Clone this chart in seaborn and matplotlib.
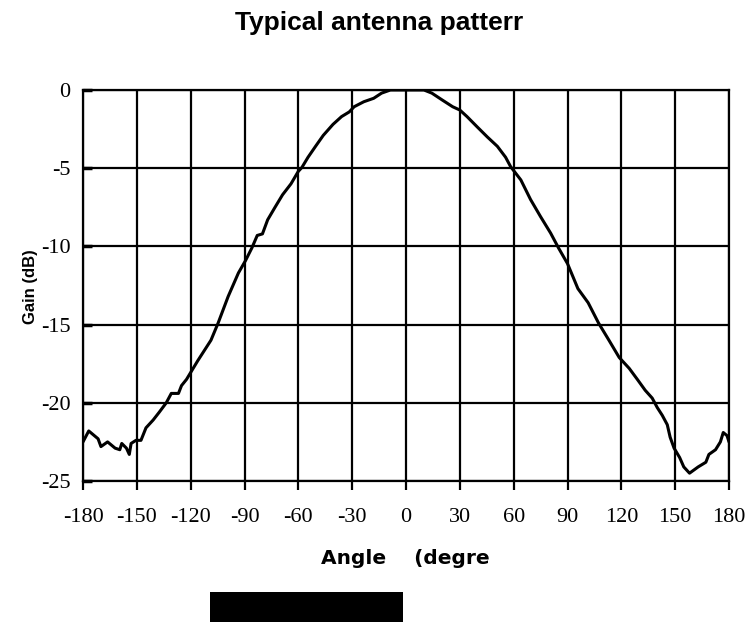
import matplotlib
matplotlib.use("Agg")
import matplotlib.pyplot as plt
import seaborn as sns
from matplotlib.patches import Rectangle

# Antenna pattern
angles = [-180, -176.8, -171.6, -170, -166.3, -162.1, -159.5, -158.4, -155.8, -154.2,
          -153.2, -150.5, -147.7, -144.9, -140.9, -137.5, -133.6, -130.8, -126.8, -125.1,
          -122.3, -116, -108.7, -104.7, -99.1, -93.4, -89.4, -85.9, -82.9, -80,
          -77.1, -73, -68.8, -64.1, -60, -58, -54.6, -50.4, -46.1, -40.7,
          -35.9, -31.6, -28.9, -23.5, -18, -13.6, -8.7, 10, 14.4, 20.2,
          26, 30, 34, 39.6, 45.3, 50.9, 55.5, 58.3, 64, 69.4,
          75, 80.6, 85, 90, 95.8, 101.5, 107.3, 113.1, 118.8, 124.4,
          128.9, 133.3, 137.2, 140, 142.8, 145.6, 147.2, 149.4, 152.5, 154.8,
          158, 162.8, 167.1, 168.8, 172.5, 175.2, 176.8, 178.9, 180]
gains = [-22.5, -21.8, -22.3, -22.8, -22.5, -22.9, -23.0, -22.6, -22.9, -23.3,
         -22.6, -22.4, -22.4, -21.6, -21.1, -20.6, -20.0, -19.4, -19.4, -18.9,
         -18.5, -17.3, -16.0, -14.9, -13.2, -11.7, -10.9, -10.1, -9.3, -9.2,
         -8.3, -7.5, -6.7, -6.0, -5.2, -4.95, -4.3, -3.6, -2.9, -2.2,
         -1.7, -1.4, -1.07, -0.75, -0.53, -0.2, 0.0, 0.0, -0.2, -0.64,
         -1.07, -1.28, -1.7, -2.35, -3.0, -3.6, -4.3, -4.9, -5.75, -7.0,
         -8.1, -9.15, -10.1, -11.1, -12.7, -13.6, -14.9, -16.0, -17.1, -17.8,
         -18.5, -19.2, -19.7, -20.3, -20.8, -21.4, -22.2, -22.9, -23.5, -24.1,
         -24.5, -24.1, -23.8, -23.3, -23.0, -22.5, -21.9, -22.1, -22.5]

x_ticks = list(range(-180, 181, 30))
y_ticks = list(range(-25, 1, 5))

sns.set_style("white")
plt.rcParams["axes.unicode_minus"] = False
plt.rcParams["text.color"] = "black"
plt.rcParams["xtick.color"] = "black"
plt.rcParams["ytick.color"] = "black"

fig = plt.figure(figsize=(7.49, 6.22), dpi=100)
ax = fig.add_axes([83 / 749, 1 - 481 / 622, 646 / 749, 391 / 622])

sns.lineplot(x=angles, y=gains, color="black", linewidth=2.2, ax=ax)

ax.set_xlim(-180, 180)
ax.set_ylim(-25, 0)
ax.set_xticks(x_ticks)
ax.set_yticks(y_ticks)
ax.grid(True, color="black", linewidth=1.6)
for s in ax.spines.values():
    s.set_color("black")
    s.set_linewidth(1.6)

ax.tick_params(axis="x", direction="out", length=6.5, width=1.6, pad=13,
               labelsize=16, bottom=True, colors="black")
ax.tick_params(axis="y", direction="in", length=6.5, width=2.5, pad=9,
               labelsize=16, left=True, colors="black")
for lab in ax.get_xticklabels() + ax.get_yticklabels():
    lab.set_fontfamily("Liberation Serif")

ax.set_xlabel("")
ax.set_ylabel("")

fig.text(379 / 749, 1 - 30 / 622, "Typical antenna patterr", ha="center",
         va="baseline", fontsize=19, fontweight="bold", family="Liberation Sans",
         color="black")
fig.text(321 / 749, 1 - 564 / 622, "Angle    (degre", ha="left", va="baseline",
         fontsize=14.5, fontweight="bold", family="DejaVu Sans", color="black")
fig.text(31 / 749, 1 - 287 / 622, "Gain (dB)", ha="center", va="center",
         rotation=90, fontsize=12, fontweight="bold", family="Liberation Sans",
         color="black")

fig.patches.append(Rectangle((210 / 749, 0), 193 / 749, 30 / 622,
                             transform=fig.transFigure, facecolor="black",
                             edgecolor="none"))

fig.savefig("out.png", dpi=100)
